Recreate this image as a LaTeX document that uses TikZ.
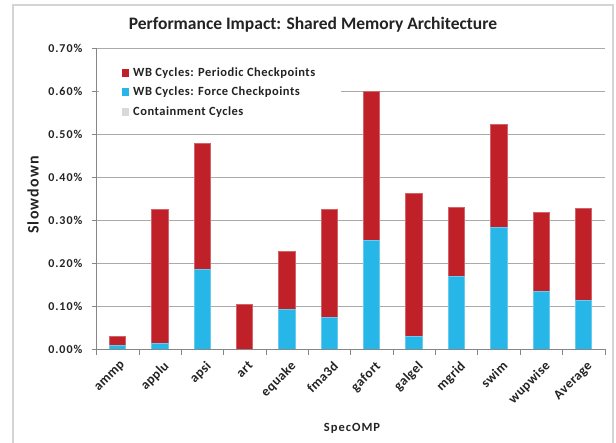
\documentclass[tikz,border=0pt]{standalone}
\usepackage{fontspec}
\setmainfont{Carlito}
\definecolor{wbred}{RGB}{192,32,39}
\definecolor{wbblue}{RGB}{38,182,232}
\definecolor{contgrey}{RGB}{217,217,217}
\definecolor{gridgrey}{RGB}{170,170,170}
\definecolor{axisgrey}{RGB}{134,134,134}
\definecolor{framegrey}{RGB}{212,212,212}
\definecolor{txtcol}{RGB}{35,35,35}
\tikzset{
  gridline/.style={draw=gridgrey, line width=1pt},
  axisline/.style={draw=axisgrey, line width=1pt},
  redbar/.style={fill=wbred, draw=wbred!70!white, line width=0.5pt},
  bluebar/.style={fill=wbblue, draw=wbblue!70!white, line width=0.5pt},
  ticklabel/.style={font=\fontsize{12}{14}\selectfont\bfseries\addfontfeatures{LetterSpace=8}, text=txtcol, inner sep=0pt},
  catlabel/.style={font=\fontsize{13.5}{15}\selectfont\bfseries\addfontfeatures{LetterSpace=3}, text=txtcol, inner sep=0pt, anchor=north east, rotate=45},
  legtext/.style={font=\fontsize{12.5}{14}\selectfont\bfseries\addfontfeatures{LetterSpace=4}, text=txtcol, inner sep=0pt, anchor=west},
  legsq/.style={minimum size=7.5pt, inner sep=0pt},
}
\begin{document}
\begin{tikzpicture}[x=1pt,y=-1pt]
\useasboundingbox (0,0) rectangle (616,442);
\clip (0,0) rectangle (616,442);
\fill[white] (0,0) rectangle (616,442);
% chart frame
\draw[framegrey, line width=1.5pt] (13,460) -- (13,5) -- (613,5) -- (613,460);
% title
\node[font=\fontsize{17.5}{20}\selectfont\bfseries, text=txtcol] (title) at (313,25) {Performance Impact: Shared Memory Architecture};
% gridlines and y tick labels
\foreach \v/\lab in {0/0.00\%,1/0.10\%,2/0.20\%,3/0.30\%,4/0.40\%,5/0.50\%,6/0.60\%,7/0.70\%}{
  \pgfmathsetmacro{\yy}{349.3-43*\v}
  \ifnum\v>0 \draw[gridline] (96.7,\yy) -- (605,\yy); \fi
  \draw[axisline] (91.5,\yy) -- (96.7,\yy);
  \node[ticklabel, anchor=east] (yl\v) at (82.5,\yy) {\lab};
}
% legend background
\fill[white] (99,58) rectangle (341,124);
% bars
\foreach \i/\nm/\b/\t in {0/ammp/0.010/0.030,1/applu/0.014/0.325,2/apsi/0.186/0.479,3/art/0/0.105,4/equake/0.094/0.229,5/fma3d/0.074/0.325,6/gafort/0.253/0.599,7/galgel/0.030/0.362,8/mgrid/0.171/0.330,9/swim/0.284/0.524,10/wupwise/0.136/0.318,11/Average/0.113/0.329}{
  \pgfmathsetmacro{\cx}{96.7+42.36*(\i+0.5)-0.5}
  \pgfmathsetmacro{\yb}{349.3-430*\b}
  \pgfmathsetmacro{\yt}{349.3-430*\t}
  \draw[redbar] (\cx-8.2,\yb) rectangle (\cx+8.2,\yt);
  \ifdim\b pt>0pt \draw[bluebar] (\cx-8.2,349.3) rectangle (\cx+8.2,\yb); \fi
  \node[catlabel] (c\i) at (\cx+3,360) {\nm};
}
% axes
\draw[axisline] (96.7,48.3) -- (96.7,349.3);
\draw[axisline] (96.7,349.3) -- (605,349.3);
\foreach \k in {0,...,12}{
  \pgfmathsetmacro{\tx}{96.7+42.36*\k}
  \draw[axisline] (\tx,349.3) -- (\tx,354.5);
}
% axis titles
\node[font=\fontsize{16}{18}\selectfont\bfseries\addfontfeatures{LetterSpace=7}, text=txtcol, rotate=90] (ytitle) at (33,195) {Slowdown};
\node[font=\fontsize{12.5}{14}\selectfont\bfseries\addfontfeatures{LetterSpace=8}, text=txtcol] (xtitle) at (352,428) {SpecOMP};
% legend
\node[legsq, fill=wbred] (ls1) at (125.5,73) {};
\node[legtext] (lt1) at (133,73) {WB Cycles: Periodic Checkpoints};
\node[legsq, fill=wbblue] (ls2) at (125.5,92) {};
\node[legtext] (lt2) at (133,92) {WB Cycles: Force Checkpoints};
\node[legsq, fill=contgrey] (ls3) at (125.5,112) {};
\node[legtext] (lt3) at (133,112) {Containment Cycles};
\end{tikzpicture}
\end{document}
